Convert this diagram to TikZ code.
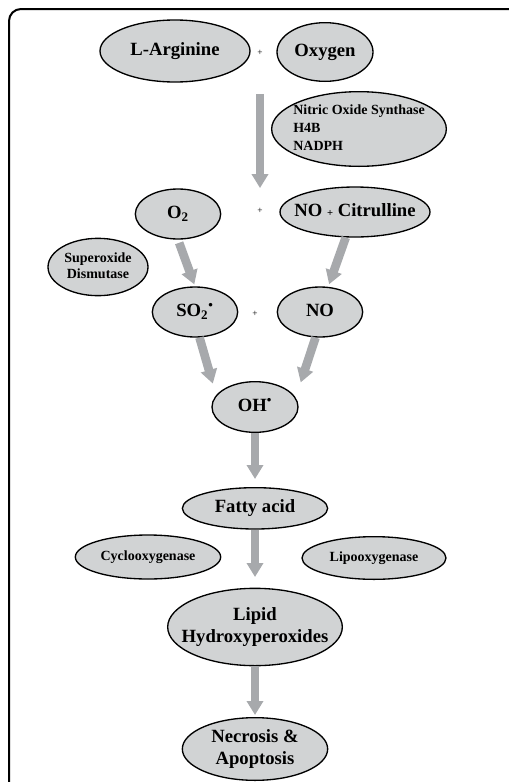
\documentclass[tikz,border=0pt]{standalone}
\usepackage{fontspec}
\setmainfont{Liberation Serif}
\usetikzlibrary{shapes.geometric, arrows.meta, positioning}
\definecolor{ovalgray}{RGB}{209,211,212}
\definecolor{arrowgray}{RGB}{167,169,172}
% zero-width text blocks, so the oval keeps its own size
\newcommand{\ctr}[1]{\makebox[0pt]{\begin{tabular}{@{}c@{}}#1\end{tabular}}}
\newcommand{\lft}[1]{\makebox[0pt]{\begin{tabular}{@{}l@{}}#1\end{tabular}}}
\tikzset{
  oval/.style={ellipse, draw=black, line width=1pt, fill=ovalgray, inner sep=0pt,
    font=\bfseries\fontsize{14}{16.5}\selectfont},
  smalloval/.style={oval, font=\bfseries\fontsize{10.5}{12}\selectfont},
  plus/.style={inner sep=0pt, font=\fontsize{7}{8}\selectfont},
  flow/.style={-{Triangle[length=10.5pt, width=12pt]}, line width=6.5pt, draw=arrowgray},
  frame/.style={draw=black, line width=1.5pt, rounded corners=9pt},
}

\begin{document}
\begin{tikzpicture}[x=0.75pt, y=-0.75pt]
  \useasboundingbox (0,0) rectangle (508,782);
  \draw[frame] (9,9) rectangle (530,805);

  % top reaction
  \node[oval, minimum width=112.5pt, minimum height=46.5pt] (arg) at (175,51) {\ctr{L-Arginine}};
  \node[plus] (plus1) at (260,53) {+};
  \node[oval, minimum width=72pt, minimum height=44pt] (oxy) at (325,52) {\ctr{Oxygen}};
  \node[smalloval, minimum width=131pt, minimum height=56pt] (nos) at (359,129)
    {\lft{Nitric Oxide Synthase\\[1.5pt]H4B\\[1.5pt]NADPH}};

  % radicals
  \node[oval, minimum width=64pt, minimum height=37.5pt] (o2) at (178,214) {\ctr{O\textsubscript{2}}};
  \node[plus] (plus2) at (260,211) {+};
  \node[oval, minimum width=112.5pt, minimum height=37.5pt] (nocit) at (355,212)
    {\ctr{NO {\fontsize{8}{8}\selectfont+} Citrulline}};
  \node[smalloval, minimum width=75pt, minimum height=43pt] (sod) at (98,267) {\ctr{Superoxide\\Dismutase}};
  \node[oval, minimum width=64pt, minimum height=37.5pt] (so2) at (195,312)
    {\ctr{SO\textsubscript{2}\textsuperscript{\textbullet}}};
  \node[plus] (plus3) at (255,314) {+};
  \node[oval, minimum width=64pt, minimum height=37.5pt] (no) at (320,312) {\ctr{NO}};
  \node[oval, minimum width=64.5pt, minimum height=38pt] (oh) at (255,407) {\ctr{OH\textsuperscript{\textbullet}}};

  % lipid chain
  \node[oval, below=40.5pt of oh, minimum width=109pt, minimum height=31pt] (fatty) {\ctr{Fatty acid}};
  \node[smalloval, minimum width=109pt, minimum height=33pt] (cox) at (148,557) {\ctr{Cyclooxygenase}};
  \node[smalloval, minimum width=108pt, minimum height=32pt] (lox) at (374,558) {\ctr{Lipooxygenase}};
  \node[oval, below=43.5pt of fatty, minimum width=131pt, minimum height=58pt] (lipid)
    {\ctr{Lipid\\Hydroxyperoxides}};
  \node[oval, below=38pt of lipid, minimum width=109pt, minimum height=47pt] (necro)
    {\ctr{Necrosis \&\\Apoptosis}};

  \draw[flow, shorten <=28.5pt, shorten >=15pt] (plus1) -- (plus2);
  \draw[flow, shorten <=2.5pt, shorten >=1.5pt] (o2.south) -- (so2.north);
  \draw[flow, shorten >=2pt] (nocit.-110) -- (no.72);
  \draw[flow, shorten >=9pt] (so2.-80) -- (oh.163);
  \draw[flow, shorten >=12pt] (no.-100) -- (oh.13);
  \draw[flow, shorten >=6pt] (oh.south) -- (fatty.north);
  \draw[flow, shorten >=8pt] (fatty.south) -- (lipid.north);
  \draw[flow, shorten >=1.5pt] (lipid.south) -- (necro.north);
\end{tikzpicture}
\end{document}
